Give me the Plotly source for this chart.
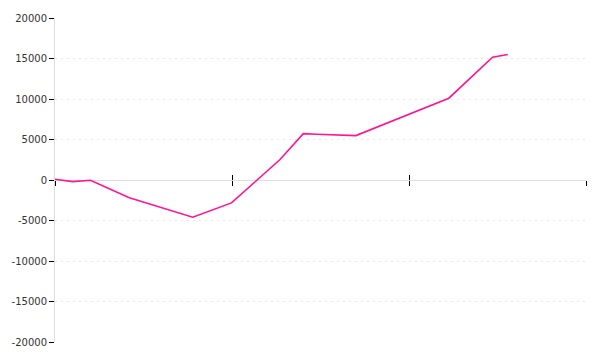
import plotly.graph_objects as go

# data
x_vals = [0.0, 0.10, 0.20, 0.42, 0.778, 0.997, 1.27, 1.403, 1.478, 1.618, 1.70, 2.225, 2.472, 2.558]
y_vals = [100, -200, -40, -2200, -4600, -2830, 2500, 5730, 5650, 5560, 5480, 10100, 15150, 15500]
x_ticks = [0, 1, 2, 3]
y_ticks = [-20000, -15000, -10000, -5000, 0, 5000, 10000, 15000, 20000]
y_tick_labels = [str(v) for v in y_ticks]

fig = go.Figure()
fig.add_trace(go.Scatter(x=x_vals, y=y_vals, mode="lines",
                         line=dict(color="#ff1493", width=1.6), showlegend=False,
                         hoverinfo="skip"))
# invisible trace so the overlay axis (ticks crossing the zero line) is drawn
fig.add_trace(go.Scatter(x=[x_ticks[0]], y=[0], xaxis="x2", mode="markers",
                         marker=dict(opacity=0), showlegend=False, hoverinfo="skip"))

common_x = dict(range=[x_ticks[0], x_ticks[-1]], tickvals=x_ticks, showticklabels=False,
                showgrid=False, zeroline=False, anchor="free", position=0.5,
                ticklen=5, tickcolor="#000", tickwidth=1, layer="below traces")

fig.update_layout(
    width=600, height=360,
    margin=dict(l=52, r=14, t=15, b=15),
    paper_bgcolor="white", plot_bgcolor="white",
    font=dict(family="DejaVu Sans", size=10, color="#333"),
    xaxis=dict(**common_x, ticks="outside", showline=True, linecolor="#dddddd", linewidth=1),
    xaxis2=dict(**common_x, ticks="inside", overlaying="x", showline=False),
    yaxis=dict(range=[y_ticks[0], y_ticks[-1]], tickvals=y_ticks, ticktext=y_tick_labels,
               ticks="outside", ticklen=5, tickcolor="#000", tickwidth=1,
               showline=True, linecolor="#dddddd", linewidth=1, layer="below traces",
               showgrid=True, gridcolor="#e6e6e6", griddash="2px,4px", gridwidth=1,
               zeroline=False, tickfont=dict(size=10, color="#333")),
)

fig.write_html("out.html")
